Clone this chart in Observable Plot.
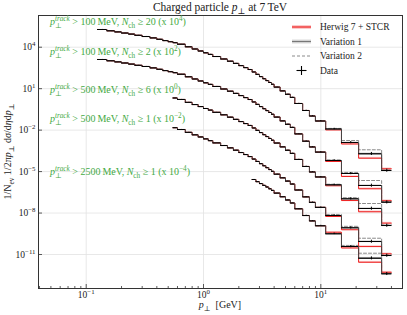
<!DOCTYPE html>
<html><head><meta charset="utf-8">
<script src="https://cdn.jsdelivr.net/npm/d3@7"></script>
<script src="https://cdn.jsdelivr.net/npm/@observablehq/plot@0.6"></script>
<style>
html,body{margin:0;padding:0;background:#fff;}
#chart svg{display:block;}
</style></head><body><div id="chart"></div>
<script>
// ---- data ----
const edges = [0.125,0.15,0.175,0.2,0.23,0.26,0.3,0.35,0.4,0.45,0.5,0.55,0.6,0.7,0.8,0.9,1.0,1.1,1.2,1.4,1.6,1.8,2.0,2.2,2.4,2.6,2.8,3.0,3.2,3.4,3.6,3.8,4.0,4.5,5.0,5.5,6.0,7.0,8.0,9.0,11,15,21,33,40];

// pT>100 MeV, Nch>=20 (x 1e4)
const data1 = [1.91e5,1.54e5,1.28e5,1.06e5,8.87e4,7.26e4,5.94e4,4.71e4,3.73e4,3.01e4,2.50e4,2.12e4,1.65e4,1.07e4,7.41e3,5.31e3,3.94e3,3.01e3,2.12e3,1.40e3,971,673,467,334,243,161,108,74.6,52.6,38.4,27.9,20.7,13.0,6.89,3.91,2.33,0.843,0.263,0.105,0.0457,0.0121,1.27e-3,1.94e-4,1.20e-5];
// pT>100 MeV, Nch>=2 (x 1e2)
const data2 = [1.29e3,1.04e3,865,719,600,491,402,318,252,203,169,143,111,72.3,50.1,35.9,26.6,20.4,14.4,9.46,6.56,4.55,3.16,2.26,1.64,1.09,0.728,0.505,0.356,0.259,0.189,0.140,0.0877,0.0466,0.0264,0.0157,5.32e-3,1.58e-3,6.05e-4,2.57e-4,6.34e-5,7.26e-6,9.84e-7,6.08e-8];
// pT>500 MeV, Nch>=6 (x 1e0), from 0.55 GeV
const data3 = [2.12,1.65,1.02,0.708,0.507,0.367,0.281,0.194,0.128,0.0865,0.0600,0.0416,0.0298,0.0217,0.0143,9.59e-3,6.65e-3,4.69e-3,3.42e-3,2.49e-3,1.85e-3,1.16e-3,6.14e-4,3.48e-4,2.07e-4,7.52e-5,2.34e-5,9.38e-6,4.07e-6,1.10e-6,1.07e-7,2.13e-8,1.25e-9];
// pT>500 MeV, Nch>=1 (x 1e-2), from 0.55 GeV
const data4 = [0.0150,0.0111,6.90e-3,4.57e-3,3.20e-3,2.32e-3,1.73e-3,1.19e-3,7.69e-4,5.21e-4,3.53e-4,2.39e-4,1.71e-4,1.22e-4,8.05e-5,5.40e-5,3.74e-5,2.64e-5,1.92e-5,1.40e-5,1.04e-5,6.50e-6,3.53e-6,2.05e-6,1.25e-6,4.63e-7,1.48e-7,5.92e-8,2.57e-8,6.64e-9,8.55e-10,8.71e-11,8.45e-12];
// pT>2500 MeV, Nch>=1 (x 1e-4), from 2.6 GeV
const data5 = [2.67e-6,1.87e-6,1.36e-6,1.00e-6,7.66e-7,5.70e-7,4.33e-7,2.77e-7,1.51e-7,8.75e-8,5.33e-8,2.02e-8,6.61e-9,2.70e-9,1.20e-9,3.15e-10,3.79e-11,5.40e-12,4.01e-13];
const firstBin = [0,0,11,11,25];

// MC / data ratios in the last four bins (11-15, 15-21, 21-33, 33-40 GeV)
const herwigTail = [[0.85,0.78,0.48,1.33],[0.85,0.61,0.58,1.28],[0.85,0.75,0.58,1.49],[0.85,0.72,0.43,1.33],[1.30,0.78,0.51,1.30]];
const var1Tail   = [[1.0,1.0,1.0,1.0],[1.0,1.0,1.0,1.0],[1.0,1.0,1.0,1.0],[1.0,1.0,1.0,1.0],[1.0,1.0,1.0,1.0]];
const var2Tail   = [[1.1,1.4,1.95,1.1],[1.1,1.2,2.3,1.1],[1.1,1.2,2.3,1.1],[1.2,1.28,1.73,1.1],[1.1,1.2,2.3,1.1]];

// relative uncertainties per bin
const mcErr   = [0.01,0.01,0.01,0.01,0.01,0.01,0.01,0.01,0.01,0.01,0.01,0.01,0.01,0.01,0.01,0.01,0.01,0.01,0.01,0.01,0.01,0.01,0.01,0.01,0.01,0.01,0.01,0.01,0.01,0.01,0.01,0.01,0.02,0.02,0.02,0.02,0.03,0.03,0.04,0.05,0.07,0.1,0.15,0.15];
const dataErr = [0.01,0.01,0.01,0.01,0.01,0.01,0.01,0.01,0.01,0.01,0.01,0.01,0.01,0.01,0.01,0.01,0.01,0.01,0.01,0.01,0.01,0.01,0.01,0.01,0.01,0.01,0.01,0.01,0.01,0.01,0.01,0.01,0.02,0.02,0.03,0.03,0.04,0.05,0.06,0.08,0.12,0.18,0.25,0.25];

const annPt = ["100","100","500","500","2500"];
const annNch = ["20","2","6","1","1"];
const annScale = ["4","2","0","\u22122","\u22124"];
const legendNames = ["Herwig 7 + STCR","Variation 1","Variation 2","Data"];
const xMajor = [0.1,1,10];
const xMinor = [0.04,0.05,0.06,0.07,0.08,0.09,0.2,0.3,0.4,0.5,0.6,0.7,0.8,0.9,2,3,4,5,6,7,8,9,20,30,40];
const yMajor = [1e4,1e1,1e-2,1e-5,1e-8,1e-11];

// ---- layout ----
const W = 407, H = 315, mL = 38, mR = 5, mT = 15, mB = 27;
const frameW = W - mL - mR, frameH = H - mT - mB;
const RED = "#ee1d1d", PINK = "#f7a8a8", V1 = "#444444", V1BAND = "#c4c4c4", V2 = "#8a8a8a", GREEN = "#44aa44";
const FONT = "'Liberation Serif','DejaVu Serif',serif";

const allData = [data1, data2, data3, data4, data5];
const nb = edges.length - 1;
const rows = [], steps = [];
allData.forEach((arr, k) => {
  const sr = arr.map((v, j) => {
    const i = firstBin[k] + j;
    const t = i - (nb - 4);
    const hw = t >= 0 ? herwigTail[k][t] : 1;
    const v1 = t >= 0 ? var1Tail[k][t] : 1;
    const v2 = t >= 0 ? var2Tail[k][t] : 1;
    return {k, i, lo: edges[i], hi: edges[i+1], data: v, herwig: v*hw, var1: v*v1, var2: v*v2, mcErr: mcErr[i], dataErr: dataErr[i]};
  });
  rows.push(...sr);
  sr.forEach(r => steps.push({k, x: r.lo, herwig: r.herwig, var1: r.var1, var2: r.var2}));
  const last = sr[sr.length-1];
  steps.push({k, x: last.hi, herwig: last.herwig, var1: last.var1, var2: last.var2});
});

const expFmt = d => "10^" + String(Math.round(Math.log10(d))).replace("-", "\u2212");

const plot = Plot.plot({
  width: W, height: H, marginLeft: mL, marginRight: mR, marginTop: mT, marginBottom: mB,
  style: {fontFamily: FONT, fontSize: "9.5px", background: "white", color: "#222"},
  x: {type: "log", domain: [0.0392, 49.7]},
  y: {type: "log", domain: [3.47e-14, 1.97e6]},
  marks: [
    Plot.ruleX(xMajor, {x: d => d, stroke: "#e2e2e2", strokeWidth: 0.8}),
    Plot.ruleY(yMajor, {y: d => d, stroke: "#e2e2e2", strokeWidth: 0.8}),
    Plot.rect(rows, {x1: "lo", x2: "hi", y1: d => d.herwig*(1-d.mcErr), y2: d => d.herwig*(1+d.mcErr), fill: PINK, fillOpacity: 0.6}),
    Plot.rect(rows, {x1: "lo", x2: "hi", y1: d => d.var1*(1-d.mcErr), y2: d => d.var1*(1+d.mcErr), fill: V1BAND, fillOpacity: 0.6}),
    Plot.line(steps, {x: "x", y: "var2", z: "k", curve: "step-after", stroke: V2, strokeWidth: 1, strokeDasharray: "3,2"}),
    Plot.line(steps, {x: "x", y: "herwig", z: "k", curve: "step-after", stroke: RED, strokeWidth: 1}),
    Plot.line(steps, {x: "x", y: "var1", z: "k", curve: "step-after", stroke: V1, strokeWidth: 1}),
    Plot.ruleY(rows, {x1: "lo", x2: "hi", y: "data", stroke: "#000", strokeWidth: 1}),
    Plot.ruleX(rows, {x: d => (d.lo + d.hi)/2, y1: d => d.data*(1-d.dataErr), y2: d => d.data*(1+d.dataErr), stroke: "#000", strokeWidth: 1}),
    Plot.tickX(xMinor, {x: d => d, insetTop: frameH - 2, stroke: "#333", strokeWidth: 0.8}),
    Plot.tickX(xMajor, {x: d => d, insetTop: frameH - 4, stroke: "#333", strokeWidth: 0.8}),
    Plot.tickY(yMajor, {y: d => d, insetRight: frameW - 4, stroke: "#333", strokeWidth: 0.8}),
    Plot.axisX({ticks: xMajor, tickSize: 0, tickPadding: 3, tickFormat: expFmt, label: null}),
    Plot.axisY({ticks: yMajor, tickSize: 0, tickPadding: 3, tickFormat: expFmt, label: null}),
    Plot.frame({stroke: "#333", strokeWidth: 1})
  ]
});
document.getElementById("chart").appendChild(plot);

const svg = d3.select(plot);
function rich(parent, parts, fs) {
  let shift = 0, prev = null;
  for (const [t, kind = "", stack = false] of parts) {
    const isSub = kind.includes("sub"), isSup = kind.includes("sup");
    const target = isSub ? 0.28*fs : isSup ? -0.42*fs : 0;
    const ts = parent.append("tspan").text(t);
    if (isSub || isSup) ts.attr("font-size", (0.72*fs).toFixed(2) + "px");
    if (kind.startsWith("i")) ts.attr("font-style", "italic");
    if (target !== shift) ts.attr("dy", (target - shift).toFixed(2));
    if (stack && prev) ts.attr("dx", (-prev.node().getComputedTextLength()).toFixed(2));
    shift = target; prev = ts;
  }
}
// superscript tick labels
svg.selectAll('g[aria-label="x-axis tick label"] text, g[aria-label="y-axis tick label"] text').each(function() {
  const s = d3.select(this); const [b, e] = s.text().split("^");
  s.text(""); rich(s, [[b, ""], [e, "sup"]], 9.5);
});

function addText(x, y, parts, fs, opts = {}) {
  const t = svg.append("text").attr("x", x).attr("y", y).attr("font-family", FONT)
    .attr("font-size", fs + "px").attr("fill", opts.fill || "#222").attr("text-anchor", opts.anchor || "start");
  if (opts.transform) t.attr("transform", opts.transform).attr("x", 0).attr("y", 0);
  rich(t, parts, fs);
  return t;
}
// title
addText(mL + frameW/2, 11, [["Charged particle ", ""], ["p", "i"], ["\u22A5", "sub"], [" at 7\u2009TeV", ""]], 11.5, {anchor: "middle"});
// axis labels
addText(mL + frameW/2, 308, [["p", "i"], ["\u22A5", "sub"], ["  [GeV]", ""]], 10, {anchor: "middle"});
addText(0, 0, [["1/N", ""], ["ev", "sub"], [" 1/2\u03C0", ""], ["p", "i"], ["\u22A5", "sub"], [" d", ""], ["\u03C3", "i"], ["/d", ""], ["\u03B7", "i"], ["d", ""], ["p", "i"], ["\u22A5", "sub"]], 10,
  {anchor: "middle", transform: `translate(11,${mT + frameH/2}) rotate(-90)`});
// annotations
const annBase = [25, 55, 93.3, 121.7, 175];
annPt.forEach((pt, i) => {
  addText(mL + 12, annBase[i], [["p", "i"], ["\u22A5", "sub"], ["track", "isup", true], [` > ${pt}\u2009MeV, `, ""], ["N", "i"], ["ch", "sub"], [` \u2265 ${annNch[i]} (x 10`, ""], [annScale[i], "sup"], [")", ""]], 10, {fill: GREEN});
});
// legend
const lg = svg.append("g");
const ly = [27, 41.5, 56, 70.5];
const lx1 = 292, lx2 = 311, ltx = 320;
lg.append("rect").attr("x", lx1).attr("y", ly[0]-2).attr("width", lx2-lx1).attr("height", 4).attr("fill", PINK).attr("fill-opacity", 0.6);
lg.append("line").attr("x1", lx1).attr("x2", lx2).attr("y1", ly[0]).attr("y2", ly[0]).attr("stroke", RED).attr("stroke-width", 1.2);
lg.append("rect").attr("x", lx1).attr("y", ly[1]-2).attr("width", lx2-lx1).attr("height", 4).attr("fill", V1BAND).attr("fill-opacity", 0.6);
lg.append("line").attr("x1", lx1).attr("x2", lx2).attr("y1", ly[1]).attr("y2", ly[1]).attr("stroke", "#777").attr("stroke-width", 1.2);
lg.append("line").attr("x1", lx1).attr("x2", lx2).attr("y1", ly[2]).attr("y2", ly[2]).attr("stroke", V2).attr("stroke-width", 1).attr("stroke-dasharray", "3,2");
const cx = (lx1 + lx2)/2;
lg.append("line").attr("x1", cx-5).attr("x2", cx+5).attr("y1", ly[3]).attr("y2", ly[3]).attr("stroke", "#000").attr("stroke-width", 1.1);
lg.append("line").attr("x1", cx).attr("x2", cx).attr("y1", ly[3]-4.5).attr("y2", ly[3]+4.5).attr("stroke", "#000").attr("stroke-width", 1.1);
legendNames.forEach((n, i) => addText(ltx, ly[i] + 3.3, [[n, ""]], 9.5));
</script>
</body></html>
